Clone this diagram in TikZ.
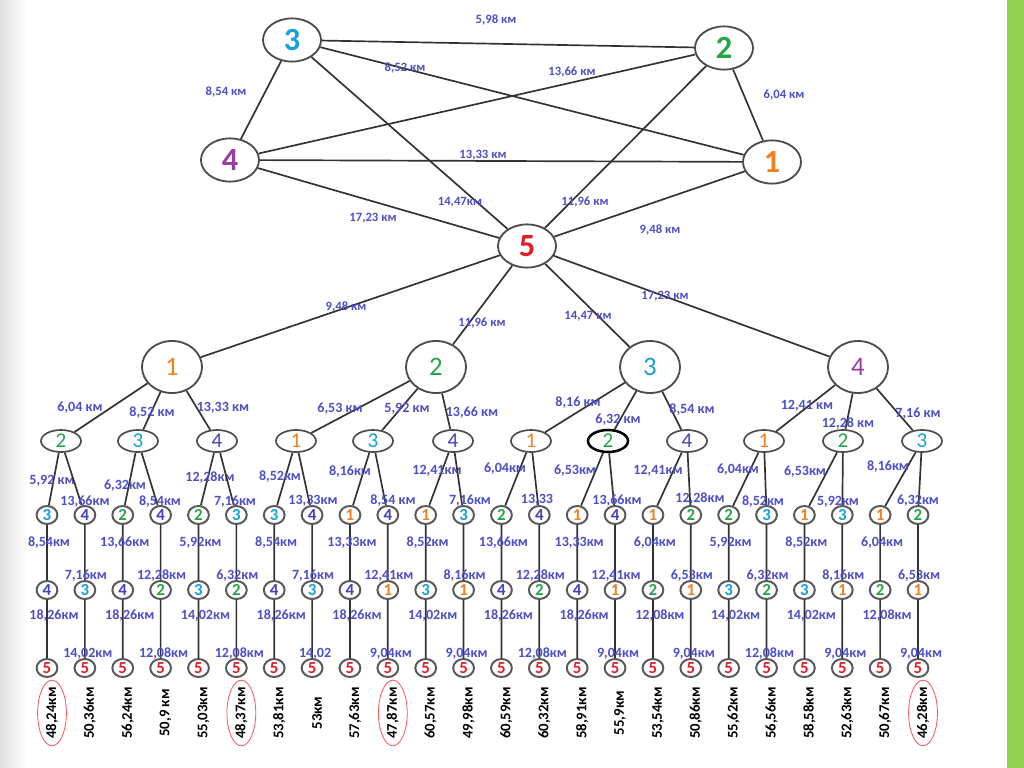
\documentclass[tikz,border=0pt]{standalone}
\usepackage{fontspec}
\setmainfont{Carlito}
\usetikzlibrary{shapes.geometric}

\definecolor{c1}{RGB}{243,128,32}
\definecolor{c2}{RGB}{34,166,72}
\definecolor{c3}{RGB}{22,160,222}
\definecolor{c4}{RGB}{150,62,160}
\definecolor{c5}{RGB}{228,30,38}
\colorlet{k1}{c1}
\colorlet{k2}{c2}
\colorlet{k3}{c3}
\definecolor{k4}{RGB}{66,66,190}
\colorlet{k5}{c5}
\definecolor{kmblue}{RGB}{78,78,200}
\definecolor{slidegreen}{RGB}{146,208,80}

\tikzset{
    line/.style={draw=black!80, line width=1.2pt},
    topnode/.style={ellipse, draw=black!70, line width=1.3pt, inner sep=0pt,
        minimum width=1.45cm, minimum height=1.08cm, font=\fontsize{23}{23}\selectfont\bfseries},
    midnode/.style={ellipse, draw=black!70, line width=1.3pt, inner sep=0pt,
        minimum width=1.5cm, minimum height=1.3cm, font=\fontsize{19}{19}\selectfont},
    l2node/.style={ellipse, draw=black!70, line width=1.2pt, inner sep=0pt,
        minimum width=1cm, minimum height=0.55cm, font=\fontsize{15}{15}\selectfont},
    l2mark/.style={l2node, draw=black, line width=1.8pt},
    leaf/.style={ellipse, draw=black!65, line width=1.4pt, inner sep=0pt,
        minimum width=0.52cm, minimum height=0.45cm, font=\fontsize{12}{12}\selectfont\bfseries},
    km/.style={text=kmblue, inner sep=0pt, font=\fontsize{10}{10}\selectfont\bfseries},
    kmtop/.style={km, font=\fontsize{9}{9}\selectfont\bfseries},
    total/.style={rotate=90, inner sep=0pt, font=\fontsize{10.5}{10.5}\selectfont\bfseries},
    ring/.style={draw=red!65, line width=0.6pt},
}

\begin{document}
\begin{tikzpicture}[x=0.025cm, y=-0.025cm]
    \useasboundingbox (0,0) rectangle (1024,768);
    % slide background
    \fill[white] (0,0) rectangle (1024,768);
    \shade[left color=black!12, right color=white] (0,0) rectangle (27,768);
    \fill[slidegreen] (1007,0) rectangle (1024,768);

    % full graph
    \node[topnode, text=c3] (t3) at (292,40) {3};
    \node[topnode, text=c2] (t2) at (724,48) {2};
    \node[topnode, text=c4] (t4) at (230,160) {4};
    \node[topnode, text=c1] (t1) at (772,162) {1};
    \node[topnode, text=c5] (t5) at (527,246) {5};

    \draw[line] (t3) -- (t2);
    \draw[line] (t3) -- (t1);
    \draw[line] (t4) -- (t2);
    \draw[line] (t3) -- (t4);
    \draw[line] (t2) -- (t1);
    \draw[line] (t4) -- (t1);
    \draw[line] (t3) -- (t5);
    \draw[line] (t2) -- (t5);
    \draw[line] (t4) -- (t5);
    \draw[line] (t1) -- (t5);

    \node[kmtop] at (496,20) {5,98 км};
    \node[kmtop] at (405,68) {8,52 км};
    \node[kmtop] at (572,72) {13,66 км};
    \node[kmtop] at (226,92) {8,54 км};
    \node[kmtop] at (784,95) {6,04 км};
    \node[kmtop] at (483,155) {13,33 км};
    \node[kmtop] at (460,202) {14,47км};
    \node[kmtop] at (585,202) {11,96 км};
    \node[kmtop] at (373,218) {17,23 км};
    \node[kmtop] at (660,230) {9,48 км};

    % first step from 5
    \node[midnode, text=c1] (a1) at (172,367) {1};
    \node[midnode, text=c2] (a2) at (436,367) {2};
    \node[midnode, text=c3] (a3) at (650,367) {3};
    \node[midnode, text=c4] (a4) at (858,367) {4};

    \draw[line] (t5) -- (a1);
    \draw[line] (t5) -- (a2);
    \draw[line] (t5) -- (a3);
    \draw[line] (t5) -- (a4);

    \node[kmtop] at (346,307) {9,48 км};
    \node[kmtop] at (482,323) {11,96 км};
    \node[kmtop] at (588,316) {14,47 км};
    \node[kmtop] at (665,296) {17,23 км};

    % second step
    \foreach \k/\bx/\n/\up/\st/\lab/\lx/\ly in {
        1/61/2/a1/l2node/{6,04 км}/80/408,
        2/138/3/a1/l2node/{8,52 км}/152/413,
        3/217/4/a1/l2node/{13,33 км}/223/408,
        4/296/1/a2/l2node/{6,53 км}/340/409,
        5/373/3/a2/l2node/{5,92 км}/407/409,
        6/453/4/a2/l2node/{13,66 км}/472/413,
        7/531/1/a3/l2node/{8,16 км}/578/403,
        8/608/2/a3/l2mark/{6,32 км}/618/420,
        9/687/4/a3/l2node/{8,54 км}/692/410,
        10/764/1/a4/l2node/{12,41 км}/807/406,
        11/843/2/a4/l2node/{12,28 км}/848/424,
        12/922/3/a4/l2node/{7,16 км}/918/414}
    {
        \node[\st, text=k\n] (b\k) at (\bx,441) {\n};
        \draw[line] (\up) -- (b\k);
        \node[km] at (\lx,\ly) {\lab};
    }

    % last steps and back to 5
    \foreach \i/\ta/\tb/\lab/\lx/\ly/\labb/\labc/\tot in {
        0/3/4/{5,92 км}/52/481/{8,54км}/{18,26км}/{48,24км},
        1/4/3/{13,66км}/85/502/{7,16км}/{14,02км}/{50,36км},
        2/2/4/{6,32км}/125/486/{13,66км}/{18,26км}/{56,24км},
        3/4/2/{8,54км}/160/502/{12,28км}/{12,08км}/{50,9 км},
        4/2/3/{12,28км}/210/478/{5,92км}/{14,02км}/{55,03км},
        5/3/2/{7,16км}/235/502/{6,32км}/{12,08км}/{48,37км},
        6/3/4/{8,52км}/280/477/{8,54км}/{18,26км}/{53,81км},
        7/4/3/{13,33км}/313/501/{7,16км}/{14,02}/{53км},
        8/1/4/{8,16км}/350/472/{13,33км}/{18,26км}/{57,63км},
        9/4/1/{8,54 км}/393/501/{12,41км}/{9,04км}/{47,87км},
        10/1/3/{12,41км}/437/471/{8,52км}/{14,02км}/{60,57км},
        11/3/1/{7,16км}/470/501/{8,16км}/{9,04км}/{49,98км},
        12/2/4/{6,04км}/505/469/{13,66км}/{18,26км}/{60,59км},
        13/4/2/{13,33}/537/500/{12,28км}/{12,08км}/{60,32км},
        14/1/4/{6,53км}/575/471/{13,33км}/{18,26км}/{58,91км},
        15/4/1/{13,66км}/617/501/{12,41км}/{9,04км}/{55,9км},
        16/1/2/{12,41км}/658/471/{6,04км}/{12,08км}/{53,54км},
        17/2/1/{12,28км}/700/499/{6,53км}/{9,04км}/{50,86км},
        18/2/3/{6,04км}/738/470/{5,92км}/{14,02км}/{55,62км},
        19/3/2/{8,52км}/763/502/{6,32км}/{12,08км}/{56,56км},
        20/1/3/{6,53км}/805/472/{8,52км}/{14,02км}/{58,58км},
        21/3/1/{5,92км}/838/502/{8,16км}/{9,04км}/{52,63км},
        22/1/2/{8,16км}/888/467/{6,04км}/{12,08км}/{50,67км},
        23/2/1/{6,32км}/918/501/{6,53км}/{9,04км}/{46,28км}}
    {
        \pgfmathsetmacro\x{47+37.87*\i}
        \pgfmathtruncatemacro\pb{\i/2+1}
        \pgfmathtruncatemacro\od{mod(\i,2)}
        \node[leaf, text=k\ta] (c\i) at (\x,515) {\ta};
        \node[leaf, text=k\tb] (d\i) at (\x,590) {\tb};
        \node[leaf, text=k5] (e\i) at (\x,668) {5};
        \draw[line] (b\pb) -- (c\i) -- (d\i) -- (e\i);
        \node[km] at (\lx,\ly) {\lab};
        \node[km] at (\x+2-\od,543+33*\od) {\labb};
        \node[km] at (\x+7-4*\od,616+38*\od) {\labc};
        \node[total] (s\i) at (\x+5,713) {\tot};
    }

    % shortest routes
    \foreach \i in {0,5,9,23}
        \draw[ring] (s\i) ellipse [x radius=0.36cm, y radius=0.82cm];
\end{tikzpicture}
\end{document}
